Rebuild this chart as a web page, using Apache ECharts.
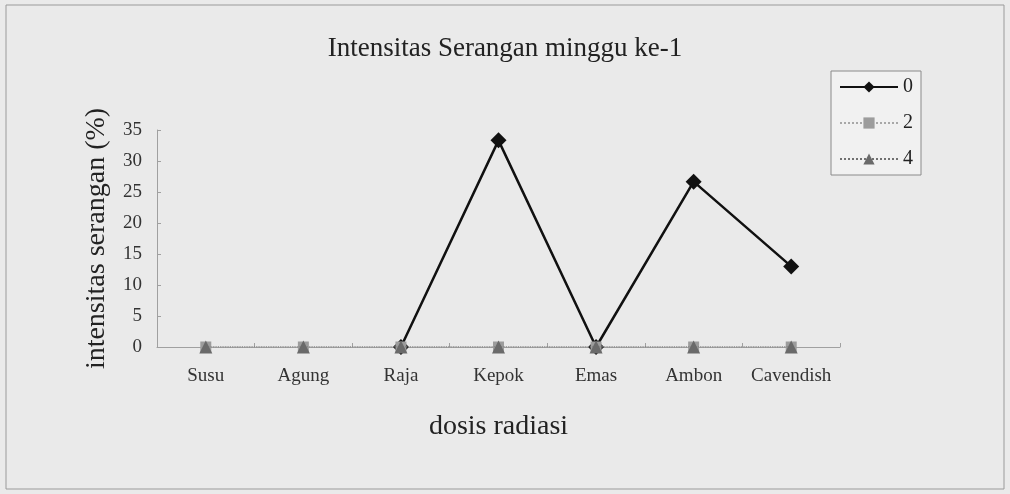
<!DOCTYPE html>
<html>
<head>
<meta charset="utf-8">
<script src="https://cdn.jsdelivr.net/npm/echarts@6/dist/echarts.min.js"></script>
<style>
  html, body { margin: 0; padding: 0; background: #eaeaea; }
  #chart { width: 1010px; height: 494px; }
</style>
</head>
<body>
<div id="chart"></div>
<script>
// varietas pisang
var categories = ["Susu", "Agung", "Raja", "Kepok", "Emas", "Ambon", "Cavendish"];
// intensitas serangan per dosis (0, 2, 4)
var dosis0 = [null, null, 0, 33.33, 0, 26.67, 13];
var dosis2 = [0, 0, 0, 0, 0, 0, 0];
var dosis4 = [0, 0, 0, 0, 0, 0, 0];

var chart = echarts.init(document.getElementById("chart"));
var serif = "Liberation Serif";

var option = {
  backgroundColor: "#eaeaea",
  animation: false,
  title: {
    text: "Intensitas Serangan minggu ke-1",
    left: "center",
    top: 30,
    textStyle: { fontFamily: serif, fontSize: 27, fontWeight: "normal", color: "#222" }
  },
  graphic: [
    {
      type: "rect",
      shape: { x: 6, y: 5, width: 998, height: 484 },
      style: { fill: null, stroke: "#9a9a9a", lineWidth: 1 },
      silent: true
    }
  ],
  legend: {
    orient: "vertical",
    left: 831,
    top: 71,
    padding: [6, 8, 6, 8],
    itemWidth: 58,
    itemHeight: 14,
    itemGap: 16,
    borderColor: "#8a8a8a",
    borderWidth: 1,
    backgroundColor: "#f1f1f1",
    textStyle: { fontFamily: serif, fontSize: 20, color: "#222" },
    data: ["0", "2", "4"]
  },
  grid: {
    left: 157,
    right: 170,
    top: 130,
    bottom: 147
  },
  xAxis: {
    type: "category",
    data: categories,
    name: "dosis radiasi",
    nameLocation: "middle",
    nameGap: 66,
    nameTextStyle: { fontFamily: serif, fontSize: 28, color: "#222" },
    axisLine: { lineStyle: { color: "#a0a0a0", width: 1 } },
    axisTick: { show: true, inside: true, length: 4, lineStyle: { color: "#a0a0a0" } },
    axisLabel: { fontFamily: serif, fontSize: 19, color: "#333", margin: 20, interval: 0 }
  },
  yAxis: {
    type: "value",
    min: 0,
    max: 35,
    interval: 5,
    name: "intensitas serangan (%)",
    nameLocation: "middle",
    nameGap: 46,
    nameTextStyle: { fontFamily: serif, fontSize: 28, color: "#222" },
    axisLine: { show: true, lineStyle: { color: "#a0a0a0", width: 1 } },
    axisTick: { show: true, inside: true, length: 4, lineStyle: { color: "#a0a0a0" } },
    splitLine: { show: false },
    axisLabel: { fontFamily: serif, fontSize: 19, color: "#333", margin: 15 }
  },
  series: [
    {
      name: "0",
      type: "line",
      data: dosis0,
      symbol: "diamond",
      symbolSize: 16,
      connectNulls: false,
      itemStyle: { color: "#111" },
      lineStyle: { color: "#111", width: 2.5 },
      z: 2
    },
    {
      name: "2",
      type: "line",
      data: dosis2,
      symbol: "rect",
      symbolSize: 11,
      itemStyle: { color: "#9c9c9c" },
      lineStyle: { color: "#a8a8a8", width: 1, type: "dotted" },
      z: 3
    },
    {
      name: "4",
      type: "line",
      data: dosis4,
      symbol: "triangle",
      symbolSize: 13,
      itemStyle: { color: "#6a6a6a" },
      lineStyle: { color: "#707070", width: 1.2, type: "dotted" },
      z: 4
    }
  ]
};

chart.setOption(option);
</script>
</body>
</html>
